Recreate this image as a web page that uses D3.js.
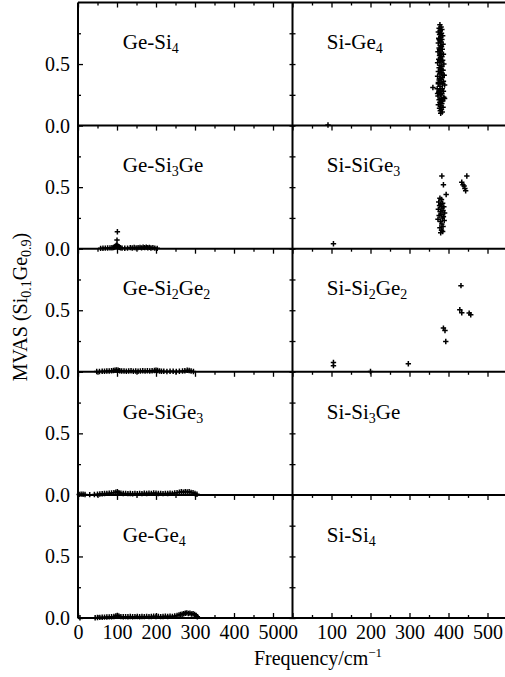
<!DOCTYPE html>
<html>
<head>
<meta charset="utf-8">
<script src="https://cdn.jsdelivr.net/npm/d3@7"></script>
<style>
  body { margin: 0; background: #fff; }
  svg, svg text { font-family: "Liberation Serif", "DejaVu Serif", "Noto Serif", "Times New Roman", serif; }
  svg { display: block; }
</style>
</head>
<body>
<svg id="chart" width="505" height="677"></svg>
<script>
// ---- data (frequency cm^-1, MVAS) ----
const freqTicks = [0, 100, 200, 300, 400, 500];
const freqMinor = [50, 150, 250, 350, 450];
const mvasTicks = [0, 0.5];
const mvasMinor = [0.25, 0.75];

const geSi4 = [];
const geSi3Ge = [[58,0.003],[64,0.004],[70,0.005],[76,0.006],[82,0.007],[87,0.008],[91,0.01],[94,0.014],[96,0.02],[98,0.026],[100,0.03],[100,0.07],[101,0.138],[102,0.022],[104,0.016],[106,0.012],[109,0.008],[113,0.005],[120,0.004],[127,0.005],[134,0.009],[139,0.006],[144,0.01],[149,0.007],[154,0.009],[159,0.011],[163,0.007],[167,0.012],[171,0.009],[175,0.013],[179,0.008],[183,0.011],[187,0.006],[192,0.009],[197,0.005],[203,0.003]];
const geSi2Ge2 = [[48,0.002],[55,0.003],[62,0.004],[68,0.005],[74,0.006],[80,0.007],[86,0.009],[91,0.011],[95,0.013],[99,0.015],[103,0.012],[107,0.008],[112,0.006],[118,0.007],[124,0.005],[130,0.006],[136,0.008],[142,0.005],[148,0.007],[154,0.005],[160,0.006],[166,0.008],[172,0.006],[178,0.008],[184,0.007],[190,0.009],[196,0.011],[200,0.013],[204,0.01],[209,0.007],[214,0.005],[220,0.004],[228,0.003],[236,0.004],[244,0.004],[252,0.003],[260,0.005],[268,0.007],[274,0.009],[280,0.012],[285,0.01],[290,0.006],[296,0.003]];
const geSiGe3 = [[3,0.004],[8,0.006],[13,0.005],[18,0.003],[30,0.002],[42,0.003],[50,0.005],[56,0.007],[62,0.009],[68,0.011],[74,0.012],[80,0.014],[86,0.016],[92,0.018],[97,0.022],[101,0.025],[105,0.018],[110,0.013],[116,0.011],[122,0.012],[128,0.01],[134,0.011],[140,0.009],[146,0.012],[152,0.01],[158,0.012],[164,0.01],[170,0.013],[176,0.011],[182,0.014],[188,0.012],[194,0.015],[200,0.013],[206,0.011],[212,0.012],[218,0.01],[224,0.012],[230,0.011],[236,0.013],[242,0.012],[248,0.015],[254,0.018],[260,0.021],[265,0.025],[270,0.022],[275,0.027],[280,0.024],[285,0.026],[290,0.02],[295,0.017],[300,0.011],[305,0.005]];
const geGe4 = [[5,0.002],[44,0.002],[50,0.004],[56,0.005],[62,0.006],[68,0.007],[74,0.008],[80,0.009],[86,0.01],[92,0.012],[97,0.016],[101,0.02],[105,0.014],[110,0.011],[116,0.01],[122,0.011],[128,0.01],[134,0.012],[140,0.01],[146,0.011],[152,0.012],[158,0.01],[164,0.012],[170,0.011],[176,0.013],[182,0.011],[188,0.012],[194,0.014],[200,0.012],[206,0.013],[212,0.011],[218,0.012],[224,0.014],[230,0.012],[236,0.015],[242,0.013],[248,0.016],[254,0.02],[259,0.025],[263,0.028],[267,0.03],[271,0.034],[275,0.038],[279,0.042],[283,0.036],[287,0.04],[291,0.032],[295,0.035],[299,0.028],[303,0.02],[306,0.01]];

const siGe4 = [[91,0.005],[378,0.82],[381,0.80],[376,0.79],[383,0.78],[379,0.77],[374,0.76],[382,0.75],[377,0.74],[385,0.73],[380,0.72],[375,0.71],[383,0.70],[378,0.69],[381,0.68],[374,0.67],[386,0.66],[379,0.65],[382,0.64],[376,0.63],[384,0.62],[378,0.61],[373,0.60],[381,0.59],[387,0.58],[377,0.57],[383,0.56],[379,0.55],[375,0.54],[385,0.53],[381,0.52],[372,0.51],[388,0.50],[378,0.49],[383,0.48],[376,0.47],[380,0.46],[386,0.45],[374,0.44],[382,0.43],[378,0.42],[389,0.41],[372,0.40],[384,0.39],[380,0.38],[376,0.37],[387,0.36],[381,0.35],[374,0.34],[390,0.33],[378,0.32],[360,0.31],[384,0.30],[371,0.30],[380,0.29],[387,0.28],[375,0.27],[383,0.26],[379,0.25],[373,0.24],[388,0.23],[381,0.22],[376,0.21],[385,0.20],[378,0.19],[383,0.18],[374,0.17],[380,0.16],[386,0.15],[377,0.14],[382,0.13],[379,0.12],[384,0.11],[380,0.10],[377,0.62],[380,0.53],[383,0.45],[377,0.38],[385,0.34],[372,0.26],[390,0.22],[376,0.28],[382,0.20],[374,0.35],[386,0.41],[379,0.58],[376,0.70]];
const siSiGe3 = [[105,0.04],[383,0.59],[387,0.52],[394,0.44],[378,0.41],[382,0.40],[375,0.38],[385,0.37],[380,0.36],[377,0.35],[388,0.34],[383,0.33],[374,0.32],[386,0.31],[379,0.30],[390,0.29],[381,0.28],[376,0.27],[387,0.26],[384,0.25],[373,0.24],[389,0.23],[379,0.22],[383,0.20],[386,0.18],[378,0.17],[382,0.15],[385,0.14],[380,0.13],[447,0.59],[434,0.54],[437,0.52],[440,0.51],[442,0.49],[444,0.47]];
const siSi2Ge2 = [[105,0.076],[105,0.05],[200,0.003],[297,0.065],[387,0.355],[391,0.335],[393,0.246],[432,0.70],[429,0.504],[434,0.48],[453,0.477],[457,0.463]];
const siSi3Ge = [];
const siSi4 = [];

// panel labels, [text, isSubscript]
const leftLabels = [
  [["Ge-Si",0],["4",1]],
  [["Ge-Si",0],["3",1],["Ge",0]],
  [["Ge-Si",0],["2",1],["Ge",0],["2",1]],
  [["Ge-SiGe",0],["3",1]],
  [["Ge-Ge",0],["4",1]]
];
const rightLabels = [
  [["Si-Ge",0],["4",1]],
  [["Si-SiGe",0],["3",1]],
  [["Si-Si",0],["2",1],["Ge",0],["2",1]],
  [["Si-Si",0],["3",1],["Ge",0]],
  [["Si-Si",0],["4",1]]
];
const leftData = [geSi4, geSi3Ge, geSi2Ge2, geSiGe3, geGe4];
const rightData = [siGe4, siSiGe3, siSi2Ge2, siSi3Ge, siSi4];

// ---- layout ----
const FONT = "Liberation Serif, DejaVu Serif, Noto Serif, serif";
const svg = d3.select("#chart");
const x0 = 78, xMid = 292.5, yTop = 2.5, yBottom = 618;
const rowH = (yBottom - yTop) / 5;
const xLeft = d3.scaleLinear().domain([0, 550]).range([x0, xMid]);
const xRight = d3.scaleLinear().domain([0, 550]).range([xMid, xMid + (xMid - x0)]);

function addParts(text, parts, size, subSize){
  let shifted = false;
  parts.forEach(function(p){
    let t = text.append("tspan").text(p[0]).attr("font-size", p[1] ? subSize : size);
    if (p[1] && !shifted) { t.attr("dy", 4); shifted = true; }
    else if (!p[1] && shifted) { t.attr("dy", -4); shifted = false; }
  });
}

function styleAxis(g){
  g.attr("font-family", FONT);
  g.select(".domain").remove();
  g.selectAll(".tick line").attr("stroke", "#000").attr("stroke-width", 1.3);
  g.selectAll(".tick text").attr("fill", "#000").attr("font-size", 20)
    .attr("font-family", FONT);
}

const plus = "M-2.7,0H2.7M0,-2.7V2.7";

for (let r = 0; r < 5; r++) {
  const y = d3.scaleLinear().domain([0, 1]).range([yTop + (r + 1) * rowH, yTop + r * rowH]);
  [[xLeft, leftData[r], leftLabels[r]], [xRight, rightData[r], rightLabels[r]]].forEach(function(c, ci){
    const x = c[0];
    const g = svg.append("g");

    // top ticks pointing inward
    g.append("g").attr("transform", "translate(0," + y(1) + ")")
      .call(d3.axisBottom(x).tickValues(freqTicks).tickSize(5).tickFormat(""))
      .call(styleAxis);
    g.append("g").attr("transform", "translate(0," + y(1) + ")")
      .call(d3.axisBottom(x).tickValues(freqMinor).tickSize(3).tickFormat(""))
      .call(styleAxis);

    if (r === 4) {
      g.append("g").attr("transform", "translate(0," + y(0) + ")")
        .call(d3.axisBottom(x).tickValues(freqTicks).tickSize(-5).tickPadding(7).tickFormat(d3.format("d")))
        .call(styleAxis);
      g.append("g").attr("transform", "translate(0," + y(0) + ")")
        .call(d3.axisBottom(x).tickValues(freqMinor).tickSize(-3).tickFormat(""))
        .call(styleAxis);
    }

    if (ci === 0) {
      g.append("g").attr("transform", "translate(" + x0 + ",0)")
        .call(d3.axisLeft(y).tickValues(mvasTicks).tickSize(-5).tickPadding(8).tickFormat(d3.format(".1f")))
        .call(styleAxis);
      g.append("g").attr("transform", "translate(" + x0 + ",0)")
        .call(d3.axisLeft(y).tickValues(mvasMinor).tickSize(-3).tickFormat(""))
        .call(styleAxis);
      g.append("g").attr("transform", "translate(" + xMid + ",0)")
        .call(d3.axisRight(y).tickValues(mvasTicks.concat(mvasMinor)).tickSize(-3).tickFormat(""))
        .call(styleAxis);
    } else {
      g.append("g").attr("transform", "translate(" + xMid + ",0)")
        .call(d3.axisLeft(y).tickValues(mvasTicks.concat(mvasMinor)).tickSize(-3).tickFormat(""))
        .call(styleAxis);
    }

    // data points
    g.selectAll("path.pt").data(c[1]).join("path")
      .attr("class", "pt")
      .attr("d", plus)
      .attr("transform", d => "translate(" + x(d[0]) + "," + y(d[1]) + ")")
      .attr("stroke", "#000").attr("stroke-width", 1.5).attr("fill", "none");

    // label
    const lbl = g.append("text")
      .attr("x", x(ci === 0 ? 115 : 88))
      .attr("y", y(0.62))
      .attr("font-family", FONT)
      .attr("fill", "#000");
    addParts(lbl, c[2], 21, 14);
  });
}

// frame lines
const frame = svg.append("g").attr("stroke", "#000").attr("stroke-width", 2).attr("fill", "none");
for (let r = 0; r <= 5; r++) {
  frame.append("line").attr("x1", x0).attr("x2", 510).attr("y1", yTop + r * rowH).attr("y2", yTop + r * rowH);
}
[x0, xMid].forEach(function(xx){
  frame.append("line").attr("x1", xx).attr("x2", xx).attr("y1", yTop).attr("y2", yBottom);
});

// axis titles
const yTitle = svg.append("text")
  .attr("transform", "translate(27,307) rotate(-90)")
  .attr("font-family", FONT)
  .attr("text-anchor", "middle").attr("fill", "#000");
addParts(yTitle, [["MVAS (Si",0],["0.1",1],["Ge",0],["0.9",1],[")",0]], 20, 14);

const xTitle = svg.append("text")
  .attr("x", 318).attr("y", 665)
  .attr("font-family", FONT)
  .attr("text-anchor", "middle").attr("fill", "#000").attr("font-size", 20);
xTitle.append("tspan").text("Frequency/cm");
xTitle.append("tspan").text("\u22121").attr("font-size", 13).attr("dy", -8);
</script>
</body>
</html>
